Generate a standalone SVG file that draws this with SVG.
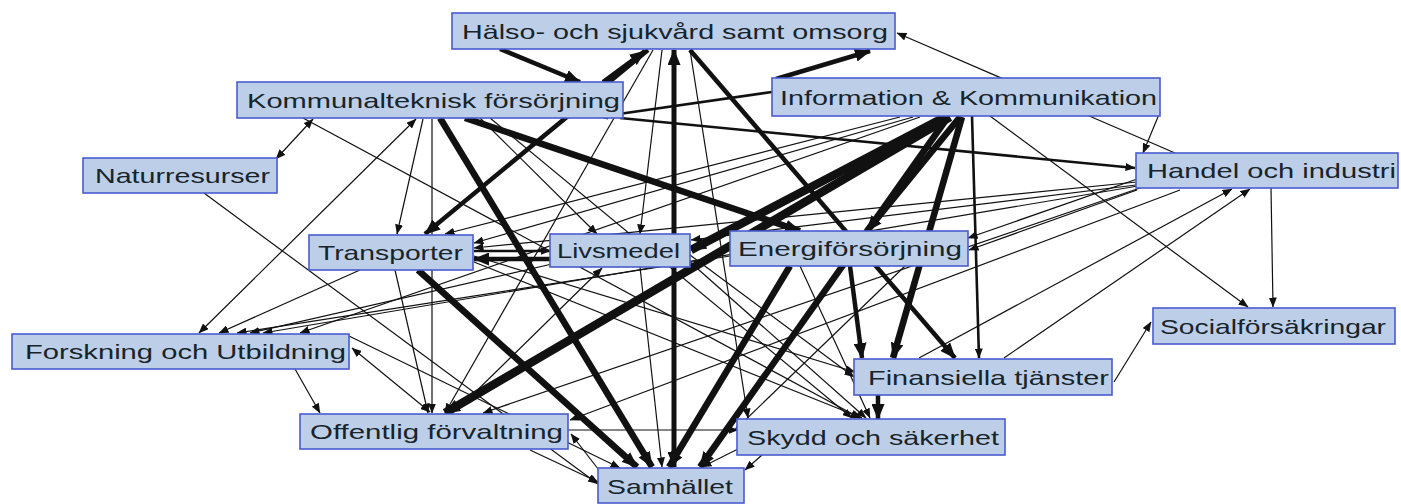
<svg xmlns="http://www.w3.org/2000/svg" width="1401" height="504" viewBox="0 0 1401 504">
<style>
.bg{fill:#ffffff}
.box{fill:#bdcfe8;stroke:#4a5bd0;stroke-width:1.6}
.lbl{font-family:"Liberation Sans",Arial,sans-serif;font-size:21px;fill:#17242a}
.e{stroke:#111;fill:none;stroke-linecap:butt}
.t{stroke-width:1.2;marker-end:url(#a)}
.tb{stroke-width:1.2;marker-end:url(#a);marker-start:url(#a)}
.m{stroke-width:2.6;marker-end:url(#a)}
.k{stroke-width:4.5;marker-end:url(#A)}
.kk{stroke-width:6.5;marker-end:url(#A)}
.kb{stroke-width:5;marker-end:url(#A);marker-start:url(#A)}
.kkk{stroke-width:8.5;marker-end:url(#A)}
</style>
<defs>
<marker id="a" markerUnits="userSpaceOnUse" markerWidth="10" markerHeight="8" refX="9.5" refY="4" orient="auto-start-reverse"><path d="M0,0 L10,4 L0,8 z" fill="#111"/></marker>
<marker id="A" markerUnits="userSpaceOnUse" markerWidth="16" markerHeight="13" refX="15" refY="6.5" orient="auto-start-reverse"><path d="M0,0 L16,6.5 L0,13 z" fill="#111"/></marker>
</defs>
<rect class="bg" x="0" y="0" width="1401" height="504"/>
<g id="connectors">
<!-- thin -->
<line class="e t" x1="1175" y1="153" x2="897" y2="33"/>
<line class="e t" x1="1160" y1="112" x2="1143" y2="153"/>
<line class="e t" x1="990" y1="116" x2="1248" y2="307"/>
<line class="e t" x1="1271" y1="188" x2="1273" y2="307"/>
<line class="e t" x1="1114" y1="382" x2="1151" y2="322"/>
<line class="e t" x1="919" y1="358" x2="1232" y2="189"/>
<line class="e t" x1="1004" y1="358" x2="1250" y2="189"/>
<line class="e tb" x1="276" y1="159" x2="313" y2="119"/>
<line class="e t" x1="204" y1="193" x2="598" y2="484"/>
<line class="e tb" x1="199" y1="333" x2="416" y2="119"/>
<line class="e t" x1="295" y1="369" x2="320" y2="413"/>
<line class="e tb" x1="352" y1="348" x2="430" y2="412"/>
<line class="e t" x1="360" y1="270" x2="219" y2="333"/>
<line class="e t" x1="730" y1="256" x2="237" y2="333"/>
<line class="e t" x1="1138" y1="186" x2="263" y2="333"/>
<line class="e t" x1="552" y1="264" x2="250" y2="333"/>
<line class="e t" x1="920" y1="117" x2="300" y2="333"/>
<line class="e t" x1="423" y1="119" x2="397" y2="234"/>
<line class="e t" x1="432" y1="119" x2="432" y2="413"/>
<line class="e t" x1="395" y1="270" x2="428" y2="413"/>
<line class="e t" x1="900" y1="117" x2="445" y2="234"/>
<line class="e t" x1="913" y1="117" x2="474" y2="243"/>
<line class="e t" x1="1137" y1="182" x2="474" y2="248"/>
<line class="e t" x1="474" y1="262" x2="862" y2="418"/>
<line class="e t" x1="474" y1="256" x2="855" y2="372"/>
<line class="e t" x1="303" y1="118" x2="860" y2="418"/>
<line class="e t" x1="662" y1="50" x2="640" y2="234"/>
<line class="e t" x1="480" y1="118" x2="597" y2="234"/>
<line class="e t" x1="490" y1="118" x2="852" y2="418"/>
<line class="e t" x1="457" y1="410" x2="602" y2="268"/>
<line class="e t" x1="1136" y1="185" x2="691" y2="240"/>
<line class="e t" x1="690" y1="262" x2="866" y2="418"/>
<line class="e t" x1="640" y1="267" x2="662" y2="467"/>
<line class="e t" x1="1137" y1="190" x2="969" y2="250"/>
<line class="e t" x1="800" y1="266" x2="870" y2="418"/>
<line class="e t" x1="1140" y1="188" x2="483" y2="413"/>
<line class="e t" x1="653" y1="50" x2="445" y2="413"/>
<line class="e t" x1="690" y1="50" x2="748" y2="418"/>
<line class="e t" x1="530" y1="450" x2="598" y2="482"/>
<line class="e t" x1="602" y1="474" x2="571" y2="434"/>
<line class="e t" x1="762" y1="455" x2="745" y2="470"/>
<line class="e t" x1="740" y1="448" x2="702" y2="467"/>
<line class="e t" x1="349" y1="336" x2="620" y2="468"/>
<line class="e t" x1="690" y1="255" x2="854" y2="377"/>
<line class="e t" x1="568" y1="430" x2="738" y2="430"/>
<line class="e t" x1="1140" y1="178" x2="968" y2="238"/>
<line class="e t" x1="905" y1="266" x2="735" y2="430"/>
<line class="e t" x1="1180" y1="190" x2="570" y2="420"/>
<!-- medium -->
<line class="e m" x1="972" y1="116" x2="979" y2="358"/>
<line class="e m" x1="620" y1="118" x2="1135" y2="168"/>
<line class="e m" x1="772" y1="92" x2="598" y2="117"/>
<line class="e m" x1="474" y1="251" x2="550" y2="251"/>
<!-- thick -->
<line class="e k" x1="776" y1="79" x2="870" y2="51"/>
<line class="e k" x1="603" y1="82" x2="645" y2="51"/>
<line class="e k" x1="500" y1="49" x2="580" y2="82"/>
<line class="e k" x1="648" y1="50" x2="425" y2="234"/>
<line class="e k" x1="550" y1="259" x2="474" y2="259"/>
<line class="e kk" x1="440" y1="118" x2="652" y2="467"/>
<line class="e kk" x1="418" y1="270" x2="637" y2="467"/>
<line class="e kk" x1="465" y1="118" x2="800" y2="231"/>
<line class="e k" x1="690" y1="50" x2="955" y2="358"/>
<line class="e kk" x1="960" y1="117" x2="867" y2="231"/>
<line class="e kk" x1="962" y1="117" x2="893" y2="358"/>
<line class="e kkk" x1="950" y1="117" x2="445" y2="413"/>
<line class="e kkk" x1="945" y1="117" x2="691" y2="250"/>
<line class="e kk" x1="948" y1="117" x2="700" y2="467"/>
<line class="e kk" x1="790" y1="266" x2="669" y2="467"/>
<line class="e k" x1="850" y1="266" x2="862" y2="358"/>
<line class="e kb" x1="674" y1="50" x2="674" y2="467"/>
<line class="e k" x1="878" y1="395" x2="878" y2="419"/>
</g>
<g id="n-halso"><rect class="box" x="452" y="13" width="443" height="36"/><text class="lbl" x="462" y="39" textLength="426" lengthAdjust="spacingAndGlyphs">Hälso- och sjukvård samt omsorg</text></g>
<g id="n-kommunal"><rect class="box" x="237" y="82" width="386" height="36"/><text class="lbl" x="247" y="108" textLength="373" lengthAdjust="spacingAndGlyphs">Kommunalteknisk försörjning</text></g>
<g id="n-info"><rect class="box" x="772" y="78" width="388" height="38"/><text class="lbl" x="780" y="105" textLength="377" lengthAdjust="spacingAndGlyphs">Information &amp; Kommunikation</text></g>
<g id="n-natur"><rect class="box" x="83" y="158" width="194" height="35"/><text class="lbl" x="95" y="183" textLength="175" lengthAdjust="spacingAndGlyphs">Naturresurser</text></g>
<g id="n-handel"><rect class="box" x="1136" y="153" width="262" height="35"/><text class="lbl" x="1147" y="178" textLength="249" lengthAdjust="spacingAndGlyphs">Handel och industri</text></g>
<g id="n-transport"><rect class="box" x="309" y="235" width="164" height="35"/><text class="lbl" x="318" y="260" textLength="145" lengthAdjust="spacingAndGlyphs">Transporter</text></g>
<g id="n-livsmedel"><rect class="box" x="550" y="234" width="140" height="33"/><text class="lbl" x="557" y="258" textLength="123" lengthAdjust="spacingAndGlyphs">Livsmedel</text></g>
<g id="n-energi"><rect class="box" x="730" y="231" width="238" height="35"/><text class="lbl" x="738" y="256" textLength="224" lengthAdjust="spacingAndGlyphs">Energiförsörjning</text></g>
<g id="n-social"><rect class="box" x="1153" y="308" width="242" height="36"/><text class="lbl" x="1160" y="334" textLength="226" lengthAdjust="spacingAndGlyphs">Socialförsäkringar</text></g>
<g id="n-forskning"><rect class="box" x="12" y="334" width="337" height="35"/><text class="lbl" x="25" y="359" textLength="321" lengthAdjust="spacingAndGlyphs">Forskning och Utbildning</text></g>
<g id="n-finans"><rect class="box" x="854" y="359" width="258" height="36"/><text class="lbl" x="868" y="385" textLength="241" lengthAdjust="spacingAndGlyphs">Finansiella tjänster</text></g>
<g id="n-offentlig"><rect class="box" x="300" y="414" width="268" height="35"/><text class="lbl" x="310" y="439" textLength="253" lengthAdjust="spacingAndGlyphs">Offentlig förvaltning</text></g>
<g id="n-skydd"><rect class="box" x="737" y="419" width="268" height="36"/><text class="lbl" x="747" y="445" textLength="252" lengthAdjust="spacingAndGlyphs">Skydd och säkerhet</text></g>
<g id="n-samhallet"><rect class="box" x="598" y="468" width="146" height="35"/><text class="lbl" x="607" y="494" textLength="126" lengthAdjust="spacingAndGlyphs">Samhället</text></g>
</svg>
